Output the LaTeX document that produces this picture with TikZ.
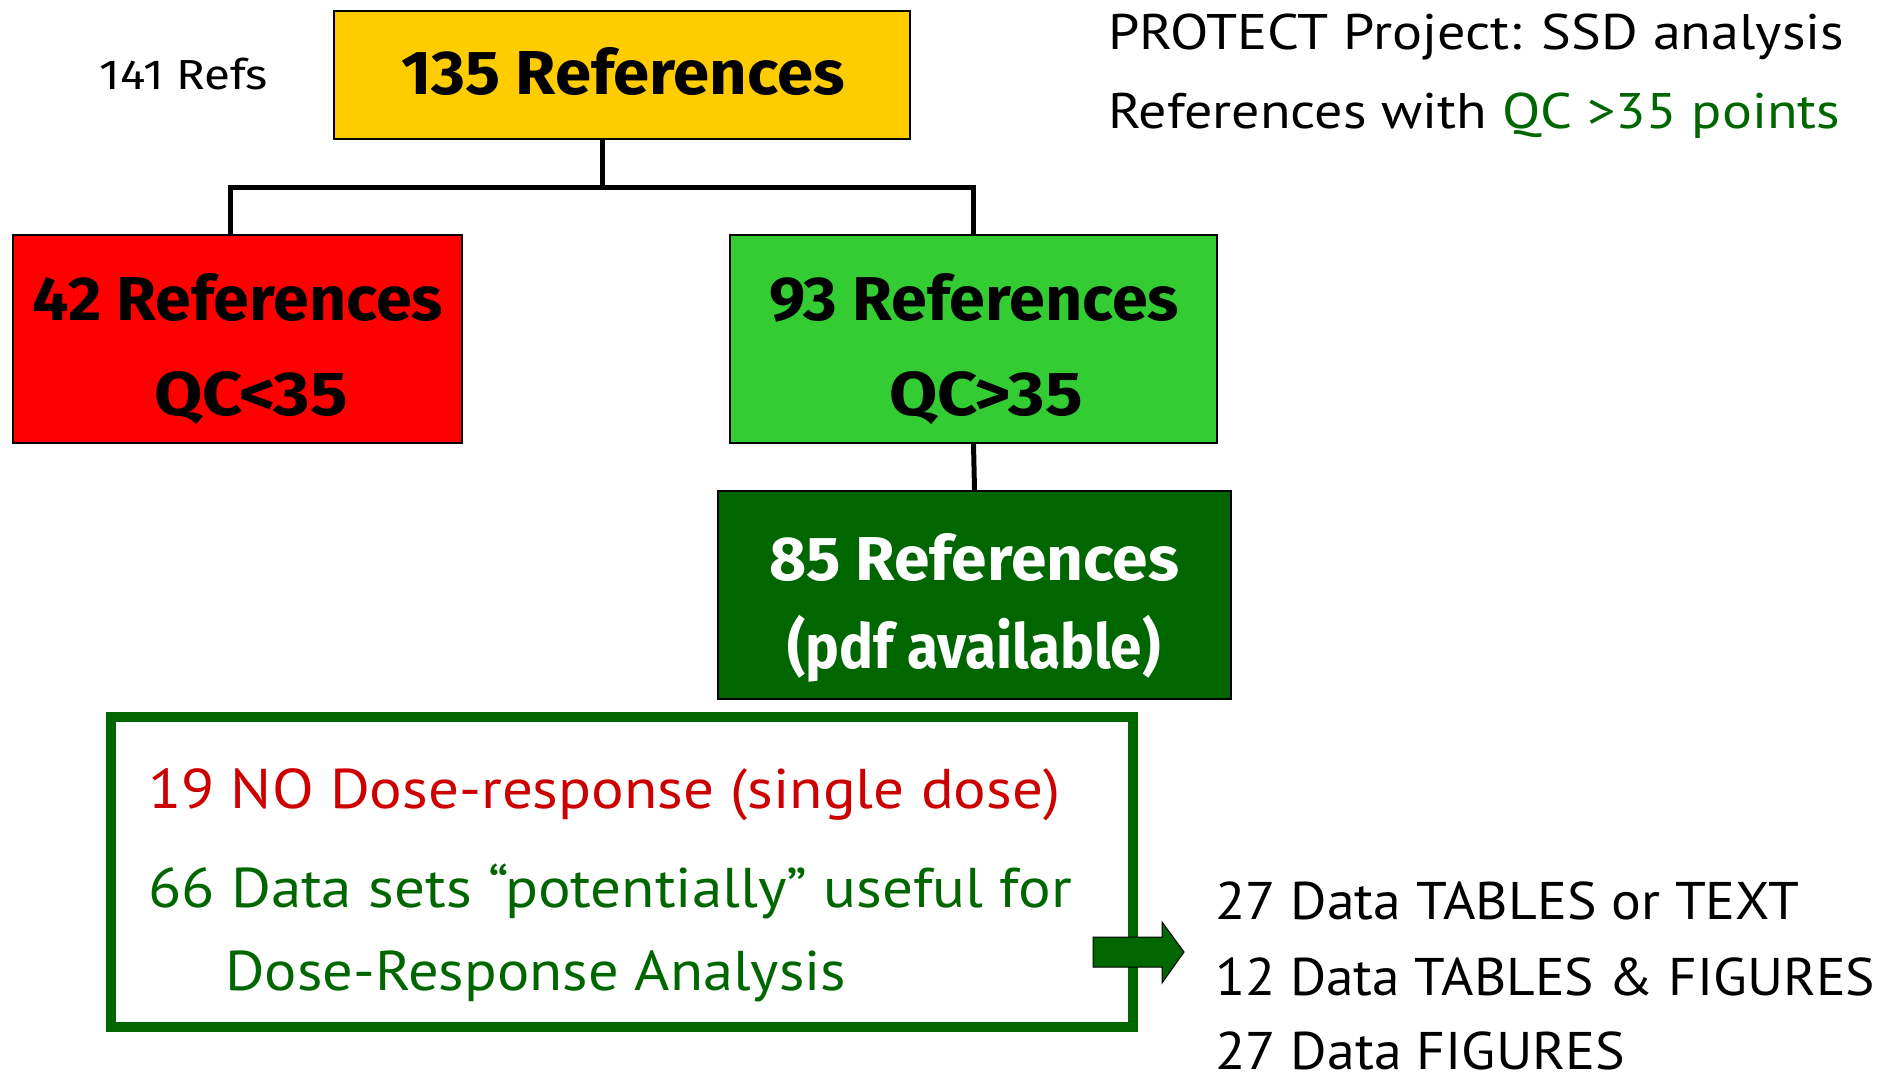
\documentclass[tikz,border=0pt]{standalone}
\usepackage{fontspec}
\usepackage{graphicx}
\newfontfamily\comicf{Fira Sans}
\newfontfamily\tahf{PT Sans}
\definecolor{cyellow}{HTML}{FFCC00}
\definecolor{cred}{HTML}{FF0000}
\definecolor{cgreen}{HTML}{33CC33}
\definecolor{cdkgreen}{HTML}{006600}
\definecolor{tred}{HTML}{CC0000}
\definecolor{tgreen}{HTML}{006600}
\newcommand\fitw[2]{\resizebox{#1}{\height}{#2}}
\tikzset{
  box/.style={draw=black, line width=2pt, inner sep=0pt},
  conn/.style={draw=black, line width=5pt},
  btxt/.style={inner sep=0pt, anchor=base, font=\comicf\bfseries\fontsize{62}{62}\selectfont},
  ttxt/.style={inner sep=0pt, anchor=base west, font=\tahf\fontsize{50}{50}\selectfont},
  itxt/.style={inner sep=0pt, anchor=base west, font=\tahf\fontsize{56}{56}\selectfont},
}
\begin{document}
\begin{tikzpicture}[x=1pt,y=-1pt]
\useasboundingbox (0,0) rectangle (1892,1077);
\fill[white] (0,0) rectangle (1892,1077);
% boxes
\node[box, fill=cyellow, minimum width=576pt, minimum height=128pt] (b135) at (622,75) {};
\node[box, fill=cred, minimum width=449pt, minimum height=208pt] (b42) at (237.5,339) {};
\node[box, fill=cgreen, minimum width=487pt, minimum height=208pt] (b93) at (973.5,339) {};
\node[box, fill=cdkgreen, minimum width=513pt, minimum height=208pt] (b85) at (974.5,595) {};
\node[draw=cdkgreen, line width=10pt, minimum width=1022pt, minimum height=310pt, inner sep=0pt] (big) at (622,872) {};
% connectors
\coordinate (jn) at (602,187);
\draw[conn] ([xshift=-20pt]b135.south) -- (jn);
\draw[conn] ([xshift=-7.5pt]b42.north) |- (jn) -| (b93.north);
\draw[conn] (b93.south) -- (b85.north);
% block arrow
\draw[fill=cdkgreen, draw=black, line width=1pt] (1093,937) -- (1162,937) -- (1162,922) -- (1184,952) -- (1162,983) -- (1162,967) -- (1093,967) -- cycle;
% box texts
\node[btxt] (t135) at (623,94) {\fitw{444pt}{135 References}};
\node[btxt, font=\comicf\fontsize{42}{42}\selectfont] (t141) at (184,89) {\fitw{168pt}{141 Refs}};
\node[btxt] (t42) at (238,320) {\fitw{410pt}{42 References}};
\node[btxt] (tqc1) at (251,415) {\fitw{193pt}{QC<35}};
\node[btxt] (t93) at (974,320) {\fitw{410pt}{93 References}};
\node[btxt] (tqc2) at (986,415) {\fitw{193pt}{QC>35}};
\node[btxt, text=white] (t85) at (974,580) {\fitw{410pt}{85 References}};
\node[btxt, text=white] (tpdf) at (974,668) {\fitw{373pt}{(pdf available)}};
% title
\node[ttxt] (ti1) at (1108,49) {\fitw{736pt}{PROTECT Project: SSD analysis}};
\node[ttxt] (ti2) at (1108,128) {\fitw{732pt}{References with \textcolor{tgreen}{QC >35 points}}};
% inner texts
\node[itxt, text=tred] (i1) at (148,808) {\fitw{912pt}{19 NO Dose-response (single dose)}};
\node[itxt, text=tgreen] (i2) at (148,907) {\fitw{924pt}{66 Data sets “potentially” useful for}};
\node[itxt, text=tgreen] (i3) at (225,990) {\fitw{621pt}{Dose-Response Analysis}};
% right texts
\node[ttxt, font=\tahf\fontsize{53}{53}\selectfont] (r1) at (1215,919) {\fitw{584pt}{27 Data TABLES or TEXT}};
\node[ttxt, font=\tahf\fontsize{53}{53}\selectfont] (r2) at (1215,995) {\fitw{660pt}{12 Data TABLES \& FIGURES}};
\node[ttxt, text depth=0pt, font=\tahf\fontsize{53}{53}\selectfont] (r3) at (1215,1069) {\fitw{410pt}{27 Data FIGURES}};
\end{tikzpicture}
\end{document}
